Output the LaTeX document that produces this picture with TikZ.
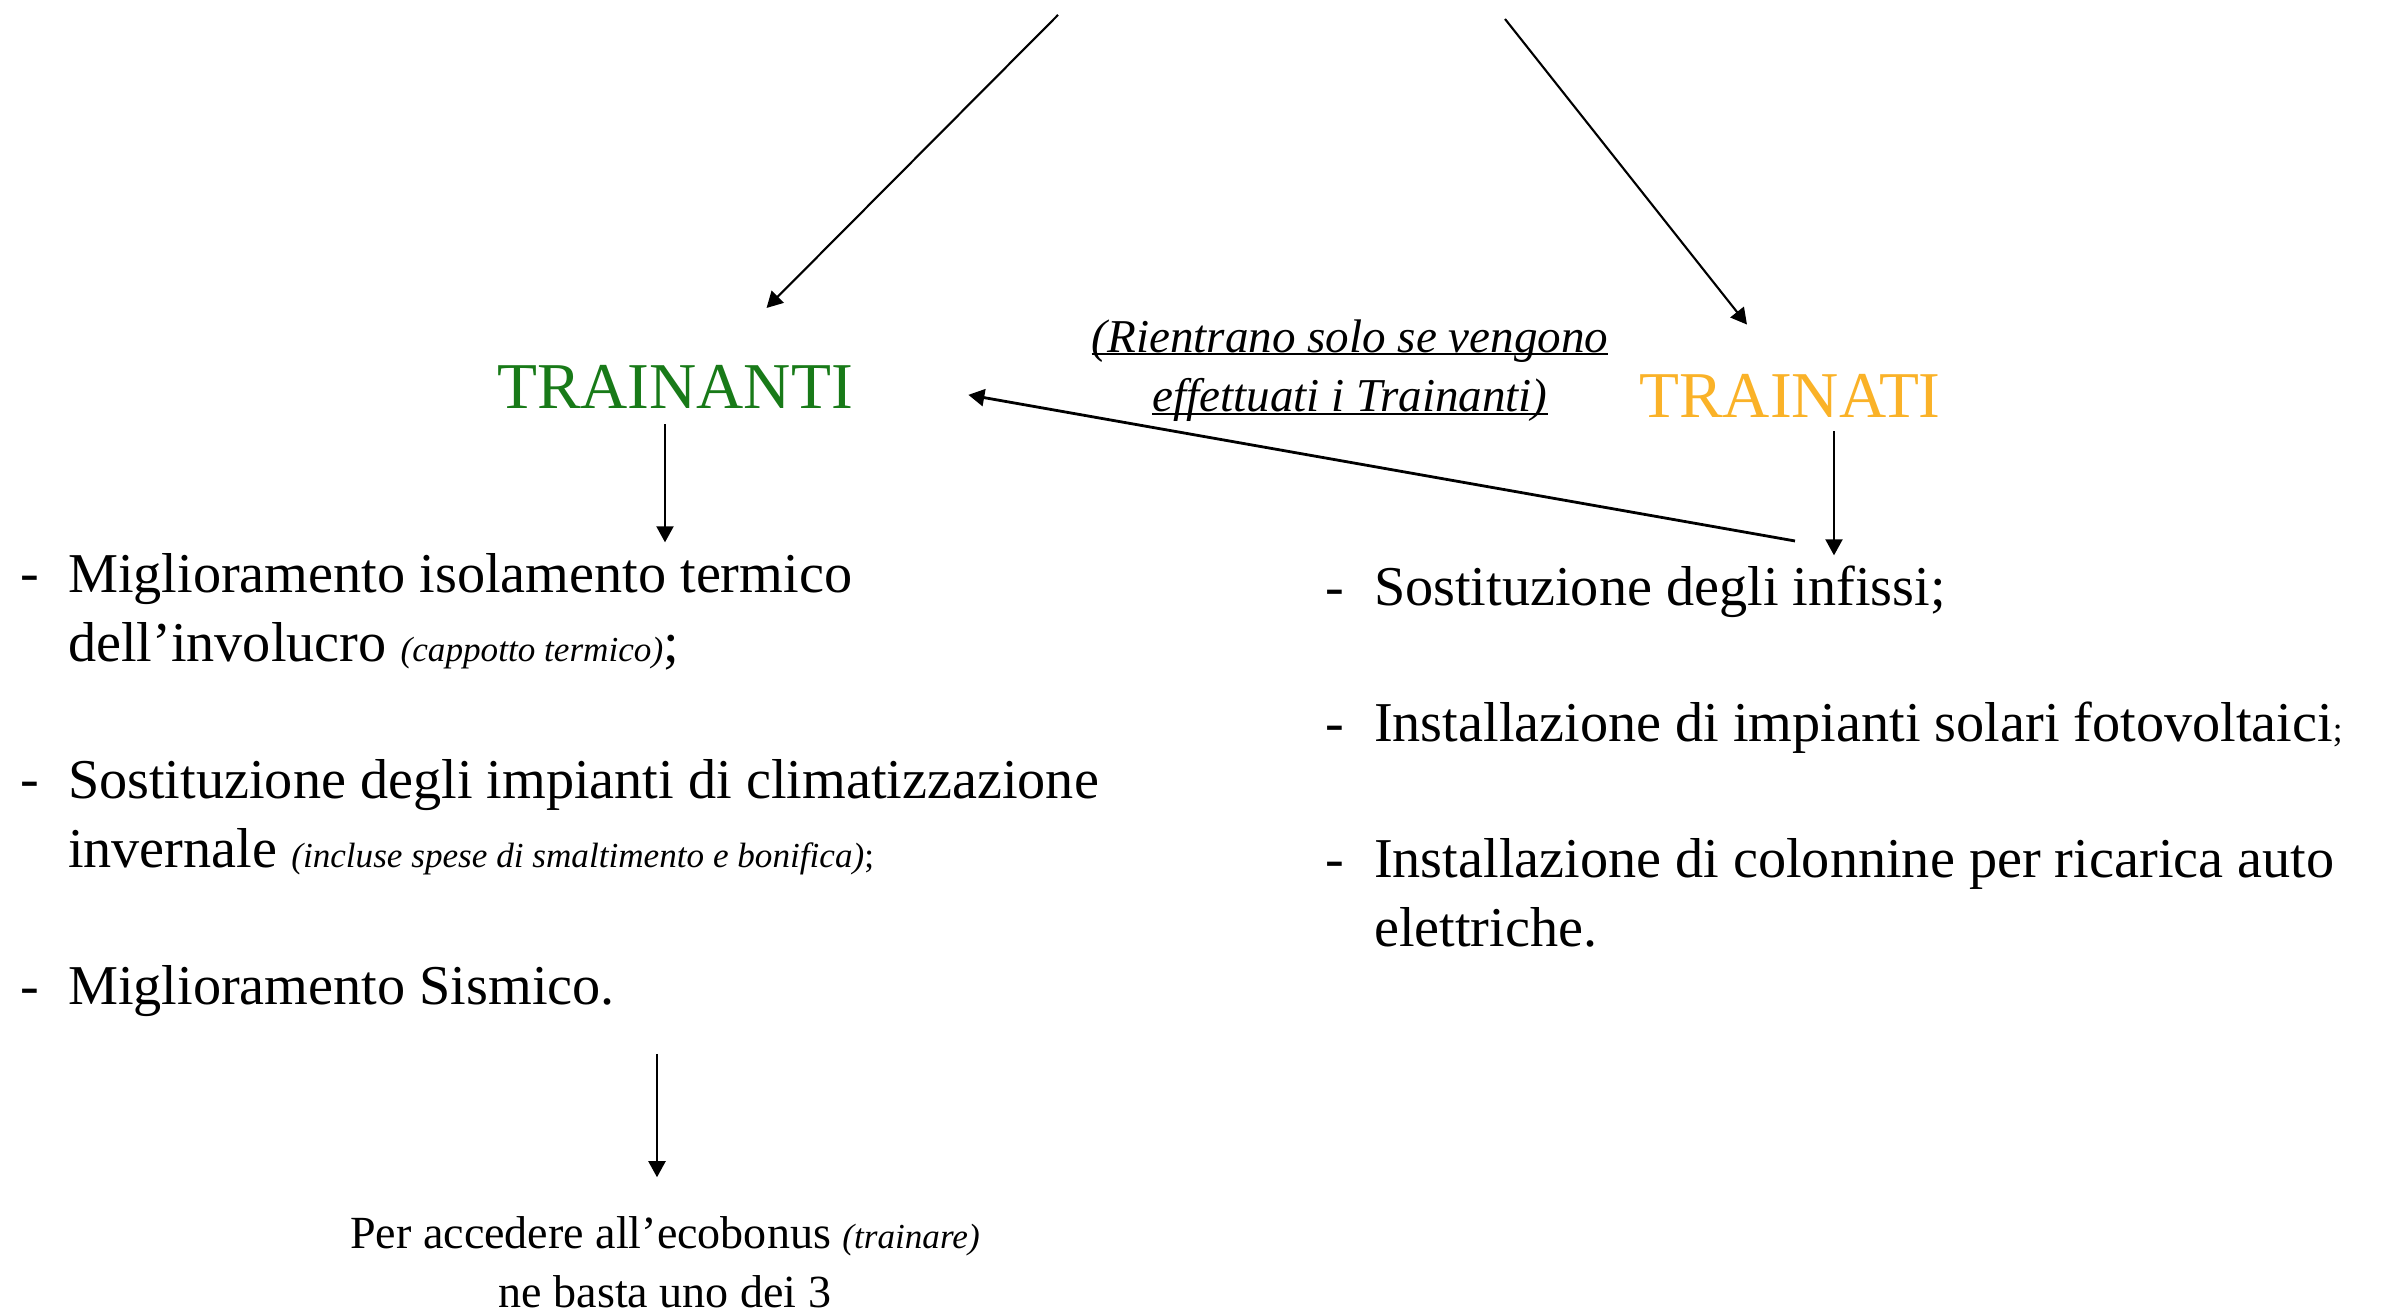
\documentclass[tikz,border=0pt]{standalone}
\usepackage{fontspec}
\setmainfont{Liberation Serif}
\usepackage{tikz}
\usetikzlibrary{arrows.meta}
\definecolor{verde}{RGB}{24,122,24}
\definecolor{giallo}{RGB}{250,178,40}
\newcommand{\piccolo}[1]{{\fontsize{10}{12}\selectfont\itshape #1}}
\newcommand{\sottolinea}[1]{\setbox0=\hbox{#1}\rlap{\rule[-0.9pt]{\wd0}{0.55pt}}\box0}
\tikzset{every path/.style={line width=0.6pt}}
\tikzset{
  arr/.style={-{Triangle[length=1.6mm,width=1.7mm]}},
  titolo/.style={anchor=base,inner sep=1mm,font=\fontsize{18.6}{22}\selectfont},
  voce/.style={anchor=base west,inner xsep=0pt,inner ysep=1mm,align=left,font=\fontsize{16}{19.8}\selectfont},
  trattino/.style={voce},
  didascalia/.style={anchor=base,inner sep=1mm,align=center,font=\fontsize{13.4}{17}\selectfont\itshape},
  nota/.style={anchor=base,inner sep=1mm,align=center,font=\fontsize{13.1}{17}\selectfont}
}

\begin{document}
\begin{tikzpicture}
\useasboundingbox (0,0) rectangle (23.86,13.14);
\node[titolo,text=verde] (trainanti) at (6.75,9.05) {TRAINANTI};
\node[titolo,text=giallo] (trainati) at (17.90,8.96) {TRAINATI};
% multi-line nodes sit on their last line
\node[didascalia] (rientro) at (13.50,9.02) {\sottolinea{(Rientrano solo se vengono}\\\sottolinea{effettuati i Trainanti)}};
% trainanti
\node[trattino] (lt1) at (0.19,7.22) {-};
\node[voce] (litem1) at (0.67,6.52) {Miglioramento isolamento termico\\dell’involucro \piccolo{(cappotto termico)};};
\node[trattino] (lt2) at (0.19,5.16) {-};
\node[voce] (litem2) at (0.67,4.46) {Sostituzione degli impianti di climatizzazione\\invernale \piccolo{(incluse spese di smaltimento e bonifica)}{\fontsize{10}{12}\selectfont;}};
\node[trattino] (lt3) at (0.19,3.09) {-};
\node[voce] (litem3) at (0.67,3.09) {Miglioramento Sismico.};
% trainati
\node[trattino] (rt1) at (13.24,7.08) {-};
\node[voce] (ritem1) at (13.73,7.08) {Sostituzione degli infissi;};
\node[trattino] (rt2) at (13.24,5.72) {-};
\node[voce] (ritem2) at (13.73,5.72) {Installazione di impianti solari fotovoltaici{\fontsize{10}{12}\selectfont;}};
\node[trattino] (rt3) at (13.24,4.36) {-};
\node[voce] (ritem3) at (13.73,3.67) {Installazione di colonnine per ricarica auto\\elettriche.};
\node[nota] (nota) at (6.65,0.06) {Per accedere all’ecobonus \piccolo{(trainare)}\\ne basta uno dei 3};
\coordinate (altoSx) at (10.58,12.99);
\coordinate (altoDx) at (15.05,12.95);
\coordinate (ritorno) at (17.95,7.73);
\coordinate (sisma) at (6.57,2.60);
\draw[arr,shorten >=6.6mm] (altoSx) -- ([xshift=4.5mm]trainanti.north);
\draw[arr,shorten >=5mm] (altoDx) -- ([xshift=-1.2mm]trainati.north);
\draw[arr,shorten <=0.4mm] ([xshift=-1mm]trainanti.south) -- ([xshift=-1mm]trainanti.south |- litem1.north);
\draw[arr,shorten <=0.2mm] ([xshift=4.4mm]trainati.south) -- ([xshift=4.4mm]trainati.south |- ritem1.north);
\draw[arr,line width=0.8pt,shorten >=10.6mm] (ritorno) -- ([yshift=1.1mm]trainanti.east);
\draw[arr,shorten >=2.8mm] (sisma) -- (sisma |- nota.north);
\end{tikzpicture}
\end{document}
